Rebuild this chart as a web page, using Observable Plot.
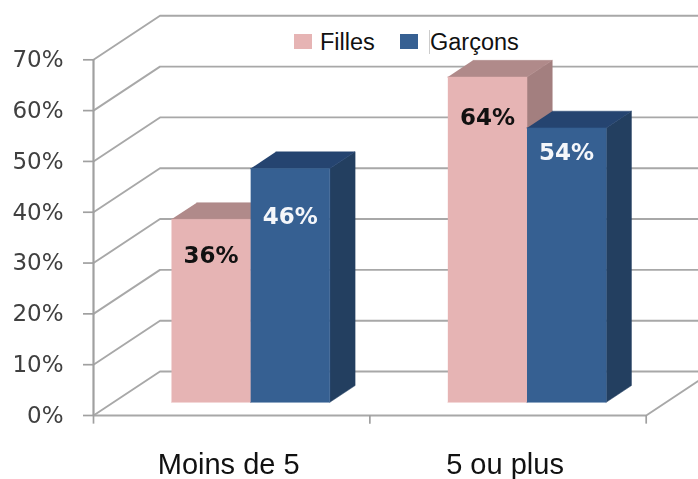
<!DOCTYPE html>
<html>
<head>
<meta charset="utf-8">
<script src="https://cdn.jsdelivr.net/npm/d3@7"></script>
<script src="https://cdn.jsdelivr.net/npm/@observablehq/plot@0.6"></script>
<style>
html,body{margin:0;padding:0;background:#fff}
#wrap{position:relative;width:698px;height:479px;overflow:hidden}
.lg{position:absolute;font-family:"Liberation Sans",Arial,sans-serif;font-size:23.5px;color:#111;line-height:24px;white-space:nowrap}
.sw{position:absolute;width:18px;height:15px}
</style>
</head>
<body>
<div id="wrap">
<div class="sw" style="left:294px;top:34px;background:#e6b4b4"></div>
<div class="lg" style="left:320px;top:30px">Filles</div>
<div class="sw" style="left:400px;top:34px;background:#366092"></div>
<div class="lg" style="left:429px;top:30px;border-left:1px solid #ccc">Garçons</div>
</div>
<script>
const categories = ["Moins de 5", "5 ou plus"];
const filles = [36, 64];
const garcons = [46, 54];
const yTicks = [0, 10, 20, 30, 40, 50, 60, 70];
const labelDrop = {filles: [7.1, 8], garcons: [9.4, 4.9]};

// Oblique projection, in data units
const wallDx = 0.2406, wallDy = 8.66;
const barFront = 0.3, barBack = 0.68;
const barLeft = 0.21, barWidth = 0.2865;
const gridColor = "#a8a8a8";
const P = (x, v, d) => ({x: x + d * wallDx, y: v + d * wallDy});

const marks = [];
// wall and floor
for (const v of yTicks) {
  marks.push(Plot.line([P(0, v, 0), P(0, v, 1), P(3, v, 1)],
    {x: "x", y: "y", stroke: gridColor, strokeWidth: 1.9}));
}
marks.push(Plot.line([P(0, 0, 0), P(2, 0, 0), P(2, 0, 1)],
  {x: "x", y: "y", stroke: gridColor, strokeWidth: 1.9}));
marks.push(Plot.ruleX([0], {y1: 0, y2: 70, stroke: "#a0a0a0", strokeWidth: 2.2}));
marks.push(Plot.ruleX(d3.range(categories.length + 1), {y1: 0, y2: -1.7, stroke: "#a0a0a0", strokeWidth: 1.7}));
marks.push(Plot.axisY({anchor: "left", ticks: yTicks, tickFormat: d => d + "%", tickSize: 10, tickPadding: 20,
  fontSize: 23, fontFamily: "DejaVu Sans", fill: "#404040", stroke: "#a0a0a0", strokeWidth: 1.7, label: null}));

const poly = (pts, color) => Plot.line(pts, {x: "x", y: "y", fill: color, stroke: color, strokeWidth: 0.5});

function bar(x, v, front, top, side) {
  const w = barWidth;
  marks.push(poly([P(x + w, 0, barFront), P(x + w, 0, barBack), P(x + w, v, barBack), P(x + w, v, barFront)], side));
  marks.push(poly([P(x, v, barFront), P(x + w, v, barFront), P(x + w, v, barBack), P(x, v, barBack)], top));
  marks.push(poly([P(x, 0, barFront), P(x + w, 0, barFront), P(x + w, v, barFront), P(x, v, barFront)], front));
}
categories.forEach((c, i) => {
  bar(i + barLeft, filles[i], "#e6b4b4", "#b08a8a", "#a37f7f");
  bar(i + barLeft + barWidth, garcons[i], "#366092", "#254470", "#233f60");
});

// value labels
const lab = (vals, key, off) => vals.map((v, i) => ({
  ...P(i + barLeft + off + barWidth / 2, v - labelDrop[key][i], barFront), t: v + "%"
}));
marks.push(Plot.text(lab(filles, "filles", 0), {x: "x", y: "y", text: "t", fill: "#111", fontWeight: "bold",
  fontSize: 23, fontFamily: "DejaVu Sans"}));
marks.push(Plot.text(lab(garcons, "garcons", barWidth), {x: "x", y: "y", text: "t", fill: "#f4f6fa", fontWeight: "bold",
  fontSize: 23, fontFamily: "DejaVu Sans"}));

// category labels
marks.push(Plot.text(categories, {x: (d, i) => i + 0.5, y: () => 0, text: d => d, dy: 49, dx: -3,
  fontSize: 29, fontFamily: "Liberation Sans", fill: "#111"}));

const chart = Plot.plot({
  width: 698, height: 479,
  marginLeft: 93, marginRight: 52.3, marginTop: 59.3, marginBottom: 64,
  style: {background: "transparent", overflow: "hidden", filter: "blur(0.45px)"},
  x: {domain: [0, 2], axis: null},
  y: {domain: [0, 70], axis: null},
  marks
});
document.getElementById("wrap").prepend(chart);
</script>
</body>
</html>
